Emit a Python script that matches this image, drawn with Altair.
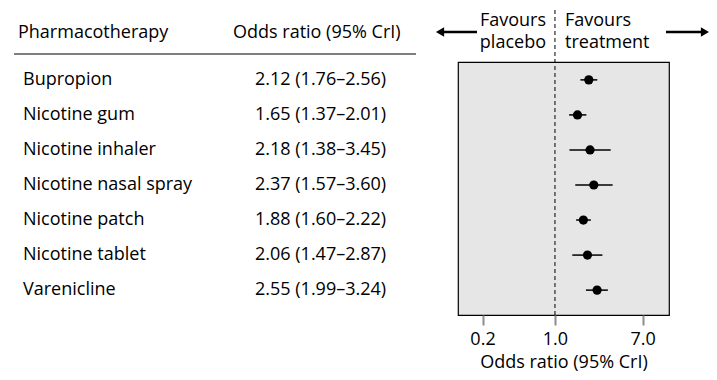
import altair as alt
import pandas as pd

# ---- data ----
drugs = ["Bupropion", "Nicotine gum", "Nicotine inhaler", "Nicotine nasal spray",
         "Nicotine patch", "Nicotine tablet", "Varenicline"]
odds = [2.12, 1.65, 2.18, 2.37, 1.88, 2.06, 2.55]
lower = [1.76, 1.37, 1.38, 1.57, 1.60, 1.47, 1.99]
upper = [2.56, 2.01, 3.45, 3.60, 2.22, 2.87, 3.24]
x_ticks = [0.2, 1.0, 7.0]
header_left = "Pharmacotherapy"
header_right = "Odds ratio (95% CrI)"
axis_title = "Odds ratio (95% CrI)"
favours_left = ["Favours", "placebo"]
favours_right = ["Favours", "treatment"]

FONT = "Open Sans"
FS = 18

df = pd.DataFrame({
    "drug": drugs,
    "row": list(range(len(drugs))),
    "or": odds,
    "lo": lower,
    "hi": upper,
})
df["label"] = [f"{o:.2f} ({l:.2f}\u2013{h:.2f})" for o, l, h in zip(odds, lower, upper)]

W, H = 211, 253

xscale = alt.Scale(type="log", domain=[0.116, 12.6], nice=False)
yscale = alt.Scale(domain=[6.71, -0.51], nice=False, zero=False)

base = alt.Chart(df)

xaxis = alt.Axis(values=x_ticks, format=".1f", grid=False, domain=False,
                 tickColor="#8c8c8c", tickWidth=2, tickSize=10,
                 labelFont=FONT, labelFontSize=FS, labelColor="black", labelPadding=5,
                 title=axis_title, titleFont=FONT, titleFontSize=FS,
                 titleFontWeight="normal", titleColor="black", titlePadding=5)

bars = base.mark_rule(color="black", strokeWidth=1.5).encode(
    x=alt.X("lo:Q", scale=xscale, axis=xaxis),
    x2="hi:Q",
    y=alt.Y("row:Q", scale=yscale, axis=None),
)
pts = base.mark_circle(color="black", opacity=1, size=85).encode(
    x=alt.X("or:Q", scale=xscale),
    y=alt.Y("row:Q", scale=yscale),
)
names = base.mark_text(align="left", baseline="middle", font=FONT, fontSize=FS, color="black").encode(
    x=alt.value(-435), y=alt.Y("row:Q", scale=yscale), text="drug:N")
vals = base.mark_text(align="left", baseline="middle", font=FONT, fontSize=FS, color="black").encode(
    x=alt.value(-203), y=alt.Y("row:Q", scale=yscale), text="label:N")

ref = alt.Chart(pd.DataFrame({"v": [1.0]})).mark_rule(
    color="black", strokeDash=[4, 3], strokeWidth=1).encode(
    x=alt.X("v:Q", scale=xscale), y=alt.value(-52), y2=alt.value(H))

hdr_rule = alt.Chart(pd.DataFrame({"a": [0]})).mark_rule(color="black", strokeWidth=1.2).encode(
    x=alt.value(-444), x2=alt.value(-42), y=alt.value(-8))


def label(text, x, y, align="left"):
    return alt.Chart(pd.DataFrame({"t": [text]})).mark_text(
        align=align, baseline="middle", font=FONT, fontSize=FS, color="black").encode(
        x=alt.value(x), y=alt.value(y), text="t:N")


hdr1 = label(header_left, -440, -29)
hdr2 = label(header_right, -225, -29)
fav = [
    label(favours_left[0], 88, -41, "right"),
    label(favours_left[1], 88, -19, "right"),
    label(favours_right[0], 107, -41, "left"),
    label(favours_right[1], 107, -19, "left"),
]

arr_l = alt.Chart(pd.DataFrame({"a": [0]})).mark_rule(color="black", strokeWidth=2.5).encode(
    x=alt.value(-16), x2=alt.value(19), y=alt.value(-30))
arr_lh = alt.Chart(pd.DataFrame({"a": [0]})).mark_point(
    shape="triangle-left", filled=True, color="black", opacity=1, size=90).encode(
    x=alt.value(-18), y=alt.value(-30))
arr_r = alt.Chart(pd.DataFrame({"a": [0]})).mark_rule(color="black", strokeWidth=2.5).encode(
    x=alt.value(208), x2=alt.value(245), y=alt.value(-30))
arr_rh = alt.Chart(pd.DataFrame({"a": [0]})).mark_point(
    shape="triangle-right", filled=True, color="black", opacity=1, size=90).encode(
    x=alt.value(247), y=alt.value(-30))

chart = alt.layer(ref, bars, pts, names, vals, hdr_rule, hdr1, hdr2,
                  *fav, arr_l, arr_lh, arr_r, arr_rh).properties(
    width=W, height=H,
    autosize=alt.AutoSizeParams(type="none"),
    padding={"left": 450, "top": 54, "right": 40, "bottom": 57},
).configure_view(fill="#e6e6e6", stroke="black", strokeWidth=1.2)

chart.save("out.html", embed_options={"renderer": "svg", "actions": False})
